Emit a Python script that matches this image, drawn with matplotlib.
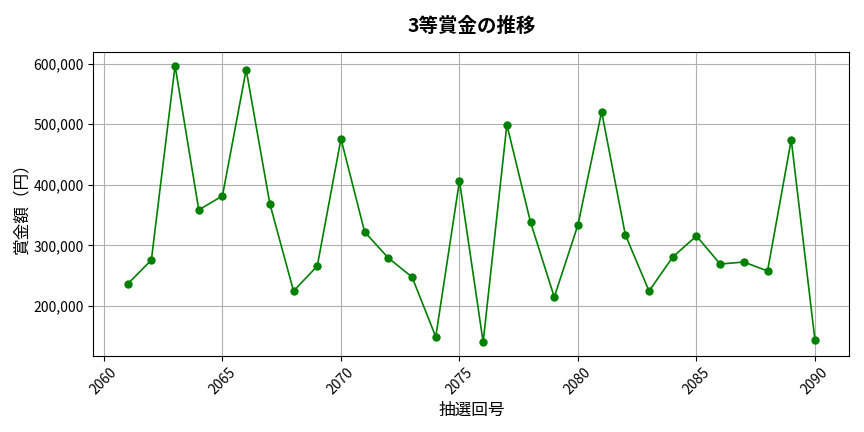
import matplotlib
matplotlib.use('Agg')
import matplotlib.pyplot as plt
from matplotlib.ticker import FuncFormatter

plt.rcParams['font.family'] = ['Noto Sans CJK JP', 'DejaVu Sans']

# 抽選回号
draws = list(range(2061, 2091))
# 3等賞金（円）
prizes = [
    236400, 276000, 596700, 358700, 381800, 590100, 368600, 224800, 266100, 476000,
    322300, 279300, 247900, 149300, 406600, 140500, 499200, 338300, 214900, 333900,
    520700, 317400, 224800, 281000, 315700, 269400, 272700, 257900, 474400, 143800,
]


def draw_plt():
    fig, ax = plt.subplots(figsize=(8.64, 4.32), dpi=100)
    ax.plot(draws, prizes, marker='o', color='green', markersize=5, linewidth=1.2)
    ax.set_title('3等賞金の推移', fontsize=14, fontweight='bold', pad=14)
    ax.set_xlabel('抽選回号', fontsize=12, labelpad=3)
    ax.set_ylabel('賞金額（円）', fontsize=12, labelpad=2)
    ax.yaxis.set_major_formatter(FuncFormatter(lambda v, p: f'{int(v):,}'))
    ax.tick_params(axis='x', labelrotation=45)
    ax.grid(True)
    fig.subplots_adjust(left=0.108, right=0.983, top=0.880, bottom=0.176)
    fig.savefig('out.png')


if __name__ == '__main__':
    draw_plt()
